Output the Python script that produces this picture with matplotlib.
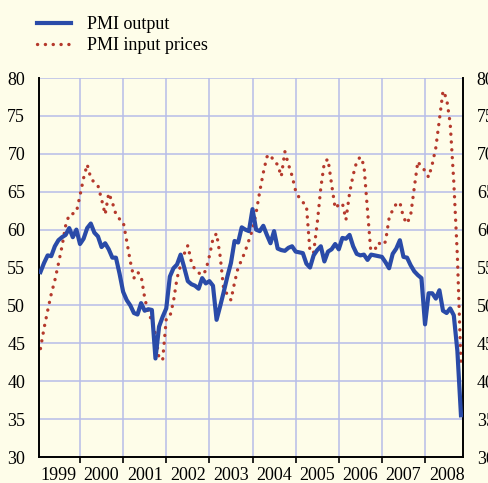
"""PMI output and input prices, monthly 1999-2008."""

import matplotlib

matplotlib.use("Agg")
import matplotlib.pyplot as plt
from matplotlib.ticker import FixedLocator, NullFormatter, FixedFormatter


START_YEAR = 1999

# monthly index values, Jan 1999 onwards
pmi_output = [
    54.4, 55.6, 56.6, 56.5, 57.8, 58.6, 59.0, 59.3, 60.2, 59.0, 60.0, 58.1,
    58.8, 60.2, 60.8, 59.6, 59.1, 57.7, 58.2, 57.4, 56.3, 56.3, 54.2, 51.8,
    50.7, 50.0, 49.0, 48.8, 50.3, 49.3, 49.5, 49.4, 43.0, 47.2, 48.5, 49.6,
    53.8, 54.9, 55.4, 56.7, 55.0, 53.2, 52.8, 52.6, 52.2, 53.6, 52.9, 53.2,
    52.6, 48.1, 49.9, 51.8, 53.8, 55.6, 58.5, 58.3, 60.3, 60.0, 59.8, 62.7,
    60.0, 59.8, 60.5, 59.3, 58.2, 59.8, 57.5, 57.3, 57.2, 57.6, 57.8, 57.1,
    57.0, 56.9, 55.5, 55.0, 56.6, 57.3, 57.8, 55.8, 57.1, 57.4, 58.1, 57.4,
    58.9, 58.8, 59.3, 57.8, 56.8, 56.6, 56.7, 56.0, 56.7, 56.6, 56.5, 56.4,
    55.7, 54.9, 56.8, 57.5, 58.6, 56.4, 56.3, 55.3, 54.5, 54.0, 53.6, 47.5,
    51.6, 51.6, 50.9, 52.0, 49.3, 49.0, 49.6, 48.7, 44.0, 35.5,
]
pmi_input_prices = [
    44.3, 47.0, 49.3, 51.5, 53.3, 55.5, 57.8, 60.5, 62.0, 62.1, 62.3, 64.5,
    66.8, 68.6, 66.8, 66.2, 65.8, 64.0, 62.0, 64.8, 63.6, 62.0, 61.4, 61.1,
    58.5, 55.8, 53.6, 54.4, 53.9, 51.0, 49.0, 48.0, 46.2, 43.0, 42.8, 48.2,
    48.5, 50.5, 53.6, 55.3, 56.8, 57.9, 55.7, 54.7, 54.3, 54.0, 54.6, 56.5,
    58.8, 59.5, 56.5, 52.0, 51.5, 50.7, 53.0, 55.0, 56.0, 57.2, 58.6, 60.0,
    62.2, 65.0, 67.5, 69.6, 69.9, 68.9, 68.6, 67.0, 70.3, 68.6, 67.1, 65.1,
    64.2, 63.6, 63.2, 57.0, 57.0, 60.8, 65.5, 68.9, 69.3, 66.0, 62.8, 63.3,
    63.5, 61.3, 64.8, 67.2, 69.0, 69.6, 68.5, 62.5, 56.6, 57.3, 58.3, 57.9,
    58.4, 61.5, 62.6, 63.4, 63.6, 61.6, 60.8, 61.9, 65.5, 69.0, 68.2, 67.8,
    66.9, 68.6, 70.8, 74.5, 78.3, 77.3, 74.0, 66.3, 56.5, 42.3,
]

year_labels = [str(y) for y in range(1999, 2009)]
y_ticks = list(range(30, 81, 5))

BG = "#fefde9"
GRID = "#b7bde8"
BLUE = "#2a4ba8"
RED = "#b5392c"
FONT = "Liberation Serif"


def main():
    plt.rcParams["font.family"] = FONT

    months = [START_YEAR + (i + 1) / 12 for i in range(len(pmi_output))]

    fig = plt.figure(figsize=(4.89, 4.83), dpi=100, facecolor=BG)
    ax = fig.add_axes([0.0798, 0.0538, 0.8670, 0.7847], facecolor=BG)

    ax.plot(months, pmi_output, color=BLUE, lw=3.0,
            solid_joinstyle="round", label="PMI output", zorder=3)
    ax.plot(months, pmi_input_prices, color=RED, lw=2.4,
            linestyle=(0, (0.05, 2.3)), dash_capstyle="round",
            label="PMI input prices", zorder=2)

    ax.set_xlim(1999.05, 2008.88)
    ax.set_ylim(30, 80)

    # year boundaries carry the grid and ticks, labels sit mid-year
    bounds = [int(y) + 1 for y in year_labels[:-1]]
    ax.xaxis.set_major_locator(FixedLocator(bounds))
    ax.xaxis.set_major_formatter(NullFormatter())
    ax.xaxis.set_minor_locator(FixedLocator([int(y) + 0.5 for y in year_labels]))
    ax.xaxis.set_minor_formatter(FixedFormatter(year_labels))
    ax.tick_params(axis="x", which="major", direction="out", length=4,
                   width=1.2, color="black")
    ax.tick_params(axis="x", which="minor", length=0, pad=7.5, labelsize=13)

    ax.set_yticks(y_ticks)
    ax.tick_params(axis="y", length=0, pad=10, labelsize=13,
                   labelleft=True, labelright=True)

    ax.grid(True, which="major", color=GRID, lw=1.1, zorder=0)
    ax.set_axisbelow(True)

    for side in ("left", "right", "bottom"):
        ax.spines[side].set_linewidth(1.4)
        ax.spines[side].set_color("black")
    ax.spines["top"].set_visible(False)

    fig.legend(loc="upper left", bbox_to_anchor=(0.075, 0.966),
               frameon=False, fontsize=13, handlelength=1.9,
               handletextpad=0.9, labelspacing=0.2, borderpad=0,
               borderaxespad=0)

    fig.savefig("out.png", dpi=100, facecolor=BG)
    plt.close(fig)


if __name__ == "__main__":
    main()
